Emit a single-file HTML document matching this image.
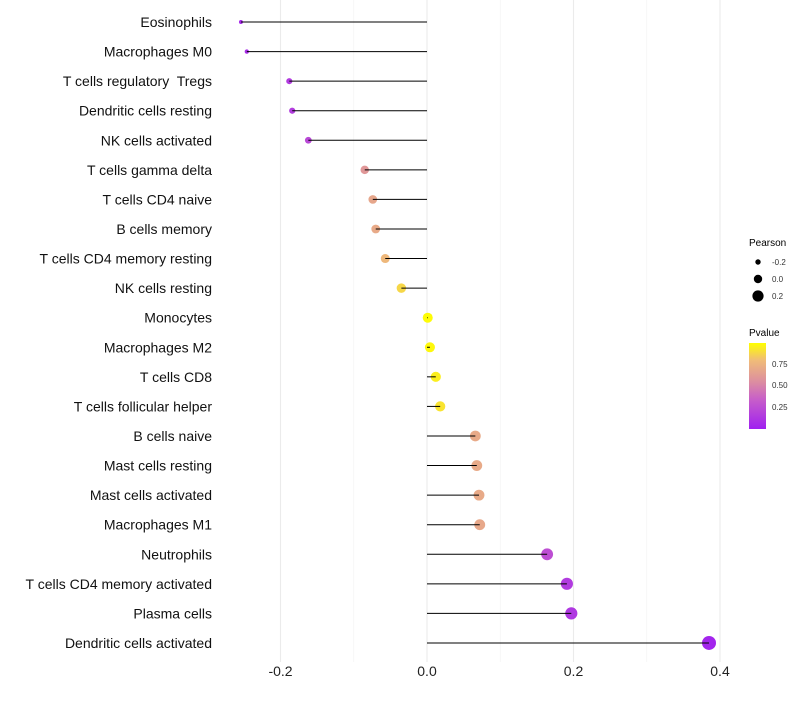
<!DOCTYPE html>
<html><head><meta charset="utf-8"><style>
body{margin:0;background:#fff;font-family:"Liberation Sans",sans-serif}
svg text{font-family:"Liberation Sans",sans-serif;white-space:pre}
</style></head><body>
<svg id="c" width="800" height="700" xmlns="http://www.w3.org/2000/svg">
<defs><linearGradient id="pg" x1="0" y1="1" x2="0" y2="0">
<stop offset="0" stop-color="#a020f0"/><stop offset="0.35" stop-color="#c860c8"/><stop offset="0.55" stop-color="#dc8ea0"/><stop offset="0.8" stop-color="#f0bc78"/><stop offset="1" stop-color="#ffff00"/></linearGradient></defs>
<g id="grid"></g><g id="marks"></g><g id="ylab"></g><g id="xlab"></g>
<g>
<text x="749" y="246" font-size="10">Pearson</text>
<circle cx="758" cy="262" r="2.7" fill="#000"/>
<text x="772" y="265" font-size="8" fill="#333">-0.2</text>
<circle cx="758" cy="279" r="4.2" fill="#000"/>
<text x="772" y="282" font-size="8" fill="#333">0.0</text>
<circle cx="758" cy="296" r="5.6" fill="#000"/>
<text x="772" y="299" font-size="8" fill="#333">0.2</text>
<text x="749" y="336" font-size="10">Pvalue</text>
<rect x="749" y="343" width="17" height="86" fill="url(#pg)"/>
<text x="772" y="367" font-size="8" fill="#333">0.75</text>
<text x="772" y="388" font-size="8" fill="#333">0.50</text>
<text x="772" y="410" font-size="8" fill="#333">0.25</text>
</g>
</svg>
<script>
const cells=["Eosinophils","Macrophages M0","T cells regulatory  Tregs","Dendritic cells resting","NK cells activated","T cells gamma delta","T cells CD4 naive","B cells memory","T cells CD4 memory resting","NK cells resting","Monocytes","Macrophages M2","T cells CD8","T cells follicular helper","B cells naive","Mast cells resting","Mast cells activated","Macrophages M1","Neutrophils","T cells CD4 memory activated","Plasma cells","Dendritic cells activated"];
const pearson=[-0.254,-0.246,-0.188,-0.184,-0.162,-0.085,-0.074,-0.070,-0.057,-0.035,0.001,0.004,0.012,0.018,0.066,0.068,0.071,0.072,0.164,0.191,0.197,0.385];
const pvalue=[0.05,0.07,0.15,0.16,0.22,0.6,0.68,0.7,0.78,0.88,0.99,0.98,0.95,0.92,0.7,0.7,0.7,0.69,0.25,0.15,0.13,0.03];
const xTicks=[-0.2,0,0.2,0.4];
const xMinor=[-0.1,0.1,0.3];
const NS="http://www.w3.org/2000/svg";
const X=v=>427+v*732.5;
const Y=i=>22+i*29.57;
const R=v=>Math.sqrt(Math.max(3,v<0?25+83*v:25+62*v));
function col(p){const st=[[0,[160,32,240]],[0.35,[200,96,200]],[0.55,[220,142,160]],[0.8,[240,188,120]],[1,[255,255,0]]];
for(let i=1;i<st.length;i++){if(p<=st[i][0]){const a=st[i-1],b=st[i],t=(p-a[0])/(b[0]-a[0]);return "rgb("+a[1].map((c,k)=>Math.round(c+(b[1][k]-c)*t)).join(",")+")";}}return "rgb(255,255,0)";}
function mk(t,a,p){const e=document.createElementNS(NS,t);for(const k in a)e.setAttribute(k,a[k]);p.appendChild(e);return e;}
const g=document.getElementById("grid"),m=document.getElementById("marks"),yl=document.getElementById("ylab"),xl=document.getElementById("xlab");
xMinor.forEach(v=>{const l=mk("line",{x1:X(v),x2:X(v),y1:0,y2:662,stroke:"#f2f2f2","stroke-width":0.6},g);

});
xTicks.forEach(v=>{const l=mk("line",{x1:X(v),x2:X(v),y1:0,y2:662,stroke:"#ebebeb","stroke-width":1.1},g);


const t=mk("text",{x:X(v),y:676,"font-size":14,"text-anchor":"middle",fill:"#222"},xl);t.textContent=v===0?"0.0":String(v);

});
cells.forEach((c,i)=>{const y=Y(i),v=pearson[i];
const d=mk("circle",{cx:X(v),cy:y,r:R(v),fill:col(pvalue[i])},m);


const l=mk("line",{x1:X(0),x2:X(v),y1:y,y2:y,stroke:"#000","stroke-width":1},m);


const t=mk("text",{x:212,y:y+5,"font-size":14,"text-anchor":"end",fill:"#111"},yl);t.textContent=c;

});
</script>
</body></html>
